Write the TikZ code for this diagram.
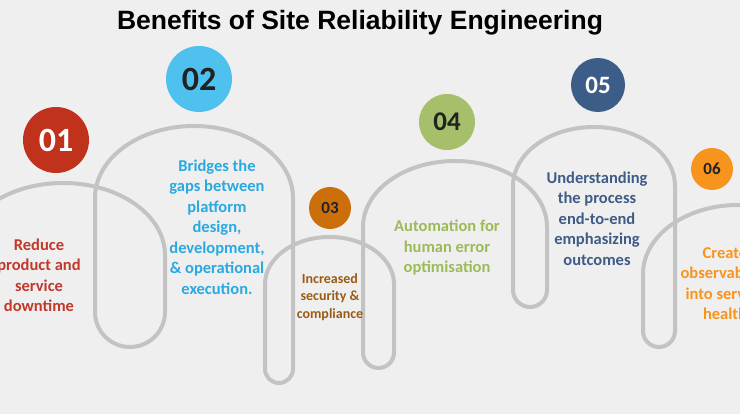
\documentclass[tikz,border=0pt]{standalone}
\usepackage{fontspec}
\setmainfont{Carlito}
\newfontfamily\titlefont{Liberation Sans}
\definecolor{bg}{RGB}{240,239,240}
\definecolor{archgray}{RGB}{195,195,195}
\definecolor{cRed}{RGB}{192,50,28}
\definecolor{cBlue}{RGB}{79,193,239}
\definecolor{cBrown}{RGB}{204,110,10}
\definecolor{cGreen}{RGB}{165,191,107}
\definecolor{cNavy}{RGB}{59,93,135}
\definecolor{cOrange}{RGB}{247,148,29}
\definecolor{tRed}{RGB}{192,57,43}
\definecolor{tBlue}{RGB}{41,169,225}
\definecolor{tBrown}{RGB}{154,91,19}
\definecolor{tGreen}{RGB}{155,187,89}
\definecolor{tNavy}{RGB}{62,92,134}
\definecolor{tOrange}{RGB}{247,148,29}
\definecolor{numdark}{RGB}{34,34,34}
\begin{document}
\begin{tikzpicture}[x=1pt,y=1pt,
  arch/.style={draw=archgray,line width=4pt},
  badge/.style={circle,inner sep=0pt,font=\bfseries},
  benefit/.style={align=center,inner sep=0pt,font=\bfseries\fontsize{16.5}{20.5}\selectfont}]
\useasboundingbox (0,0) rectangle (740,414);
\clip (0,0) rectangle (740,414);
\fill[bg] (0,0) rectangle (740,414);
% continuous arch line
\draw[arch] (-39,60) -- (-39,159)
  arc[start angle=180,end angle=0,x radius=102pt,y radius=72pt]
  -- (165,102) arc[start angle=0,end angle=-180,radius=35pt]
  -- (95,216) arc[start angle=180,end angle=0,x radius=99pt,y radius=72pt]
  -- (293,45) arc[start angle=0,end angle=-180,radius=14pt]
  -- (265,130) arc[start angle=180,end angle=0,x radius=64.5pt,y radius=47pt]
  -- (394,61.5) arc[start angle=0,end angle=-180,radius=15.5pt]
  -- (363,187) arc[start angle=180,end angle=0,x radius=92pt,y radius=66pt]
  -- (547,124) arc[start angle=0,end angle=-180,radius=17pt]
  -- (513,228) arc[start angle=180,end angle=0,x radius=81pt,y radius=59pt]
  -- (675,83) arc[start angle=0,end angle=-180,radius=16pt]
  -- (643,140) arc[start angle=180,end angle=0,x radius=95pt,y radius=69pt]
  -- (833,60);
% title
\node[font=\titlefont\bfseries\fontsize{26.5}{30}\selectfont] (title) at (360,391) {Benefits of Site Reliability Engineering};
% badges
\node[badge,fill=cRed,minimum size=66pt,text=white,font=\bfseries\fontsize{34}{36}\selectfont] (b1) at (56,274) {01};
\node[badge,fill=cBlue,minimum size=66pt,text=numdark,font=\bfseries\fontsize{34}{36}\selectfont] (b2) at (199,335) {02};
\node[badge,fill=cBrown,minimum size=42pt,text=numdark,font=\bfseries\fontsize{17}{19}\selectfont] (b3) at (330,206) {03};
\node[badge,fill=cGreen,minimum size=56pt,text=numdark,font=\bfseries\fontsize{27}{29}\selectfont] (b4) at (447,292) {04};
\node[badge,fill=cNavy,minimum size=54pt,text=white,font=\bfseries\fontsize{25}{27}\selectfont] (b5) at (598,329) {05};
\node[badge,fill=cOrange,minimum size=42pt,text=numdark,font=\bfseries\fontsize{17}{19}\selectfont] (b6) at (712,245) {06};
% texts
\node[benefit,text=tRed] (t1) at (39,138.5) {Reduce\\product and\\service\\downtime};
\node[benefit,text=tBlue] (t2) at (217,187) {Bridges the\\gaps between\\platform\\design,\\development,\\\& operational\\execution.};
\node[benefit,text=tBrown,font=\bfseries\fontsize{14}{17.5}\selectfont] (t3) at (330,117) {Increased\\security \&\\compliance};
\node[benefit,text=tGreen] (t4) at (447,166) {Automation for\\human error\\optimisation};
\node[benefit,text=tNavy] (t5) at (597,195.5) {Understanding\\the process\\end-to-end\\emphasizing\\outcomes};
\node[benefit,text=tOrange] (t6) at (725,130.5) {Create\\observability\\into service\\health};
\end{tikzpicture}
\end{document}
